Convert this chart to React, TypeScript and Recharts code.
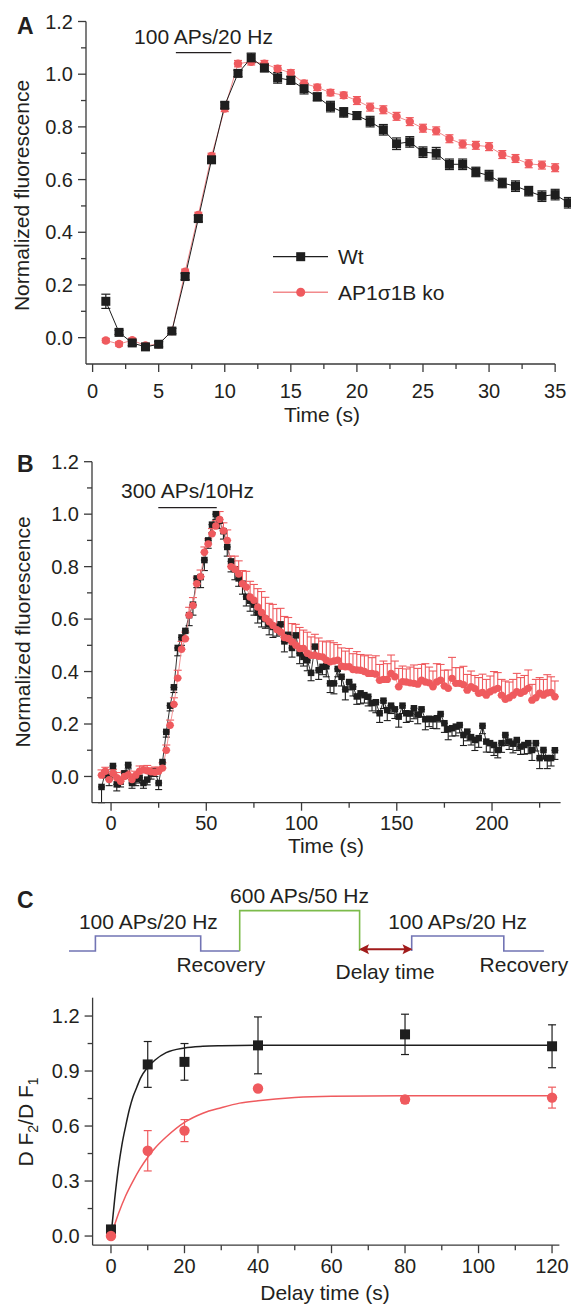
import React from 'react';
import { ComposedChart, Line, Scatter, XAxis, YAxis, ErrorBar, ReferenceLine } from 'recharts';

const FONT = '"Liberation Sans", Arial, Helvetica, sans-serif';
const INK = '#231f20';
const AXIS = '#3a3a3a';
const BLACK = '#1e1e1e';
const RED = '#ef5a5e';
const RED_LINE = '#f28a8c';
const BLUE = '#7274b4';
const GREEN = '#7cbb4b';
const DARKRED = '#a11b1b';

// ---------------- Panel A ----------------
const aTime = [1, 2, 3, 4, 5, 6, 7, 8, 9, 10, 11, 12, 13, 14, 15, 16, 17, 18, 19, 20, 21, 22, 23, 24, 25, 26, 27, 28, 29, 30, 31, 32, 33, 34, 35, 36];
const aWt = [0.138, 0.02, -0.02, -0.035, -0.025, 0.025, 0.232, 0.452, 0.675, 0.882, 1.003, 1.062, 1.024, 0.986, 0.977, 0.945, 0.914, 0.877, 0.855, 0.843, 0.82, 0.789, 0.736, 0.743, 0.704, 0.7, 0.658, 0.658, 0.629, 0.615, 0.587, 0.575, 0.556, 0.537, 0.543, 0.512];
const aWtErr = [0.027, 0.008, 0.01, 0.01, 0.01, 0.01, 0.012, 0.012, 0.012, 0.012, 0.012, 0.018, 0.015, 0.02, 0.015, 0.02, 0.015, 0.02, 0.018, 0.015, 0.02, 0.02, 0.022, 0.02, 0.02, 0.022, 0.02, 0.02, 0.018, 0.02, 0.018, 0.02, 0.018, 0.02, 0.02, 0.02];
const aKo = [-0.011, -0.024, -0.01, -0.03, -0.025, 0.025, 0.25, 0.466, 0.69, 0.87, 1.04, 1.047, 1.04, 1.021, 1.005, 0.965, 0.95, 0.93, 0.92, 0.9, 0.875, 0.865, 0.84, 0.82, 0.795, 0.785, 0.755, 0.735, 0.73, 0.725, 0.695, 0.68, 0.66, 0.655, 0.645];
const aKoErr = [0.008, 0.008, 0.008, 0.008, 0.008, 0.008, 0.01, 0.01, 0.01, 0.012, 0.012, 0.012, 0.012, 0.012, 0.012, 0.012, 0.012, 0.012, 0.012, 0.015, 0.015, 0.015, 0.015, 0.015, 0.015, 0.015, 0.015, 0.015, 0.015, 0.015, 0.015, 0.015, 0.015, 0.015, 0.015];
const aXTicks = [0, 2.5, 5, 7.5, 10, 12.5, 15, 17.5, 20, 22.5, 25, 27.5, 30, 32.5, 35];
const aXMajor = [0, 5, 10, 15, 20, 25, 30, 35];
const aYTicks = [0, 0.1, 0.2, 0.3, 0.4, 0.5, 0.6, 0.7, 0.8, 0.9, 1.0, 1.1, 1.2];
const aYMajor = [0, 0.2, 0.4, 0.6, 0.8, 1.0, 1.2];
const aStim = [6.3, 10.5];
const aStimLevel = 1.082;

// ---------------- Panel B ----------------
const bTime = [-5, -3, -1, 1, 3, 5, 7, 9, 11, 13, 15, 17, 19, 21, 23, 25, 27, 29, 31, 33, 35, 37, 39, 41, 43, 45, 47, 49, 51, 53, 55, 57, 59, 61, 63, 65, 67, 69, 71, 73, 75, 77, 79, 81, 83, 85, 87, 89, 91, 93, 95, 97, 99, 101, 103, 105, 107, 109, 111, 113, 115, 117, 119, 121, 123, 125, 127, 129, 131, 133, 135, 137, 139, 141, 143, 145, 147, 149, 151, 153, 155, 157, 159, 161, 163, 165, 167, 169, 171, 173, 175, 177, 179, 181, 183, 185, 187, 189, 191, 193, 195, 197, 199, 201, 203, 205, 207, 209, 211, 213, 215, 217, 219, 221, 223, 225, 227, 229, 231, 233];
const bWt = [-0.04, 0.015, -0.005, 0.04, -0.03, -0.02, 0.012, 0.044, -0.025, -0.01, -0.005, -0.025, -0.012, 0.01, 0.02, -0.025,
  0.055, 0.17, 0.27, 0.34, 0.49, 0.53, 0.555, 0.615, 0.655, 0.755, 0.76, 0.825, 0.9, 0.96, 1.0,
  0.975, 0.935, 0.875, 0.82, 0.79, 0.755, 0.735, 0.685, 0.67, 0.655, 0.625, 0.61, 0.6, 0.58, 0.57, 0.57, 0.58, 0.515, 0.54, 0.49, 0.538, 0.47,
  0.456, 0.443, 0.395, 0.495, 0.405, 0.418, 0.42, 0.355, 0.355, 0.41, 0.38, 0.332, 0.36, 0.342, 0.305, 0.317, 0.31, 0.304, 0.28, 0.283, 0.241, 0.289, 0.253, 0.27, 0.256, 0.228, 0.27, 0.241, 0.24, 0.26, 0.236, 0.256, 0.218, 0.22, 0.218, 0.222, 0.238, 0.203, 0.18, 0.184, 0.19, 0.196, 0.158, 0.171, 0.15, 0.139, 0.146, 0.193, 0.133, 0.127, 0.12, 0.101, 0.127, 0.158, 0.133, 0.125, 0.139, 0.114, 0.12, 0.127, 0.101, 0.127, 0.07, 0.101, 0.07, 0.07, 0.1];
const bWtErr = [0.06, 0.02, 0.03, 0.02, 0.025, 0.02, 0.02, 0.015, 0.02, 0.025, 0.02, 0.02, 0.02, 0.02, 0.02, 0.025,
  0.02, 0.02, 0.02, 0.02, 0.03, 0.03, 0.03, 0.04, 0.04, 0.035, 0.04, 0.04, 0.03, 0.03, 0.02,
  0.03, 0.03, 0.035, 0.04, 0.04, 0.03, 0.04, 0.035, 0.04, 0.04, 0.04, 0.04, 0.035, 0.04, 0.04, 0.035, 0.04, 0.04, 0.03, 0.035, 0.04, 0.04,
  0.035, 0.04, 0.03, 0.04, 0.035, 0.03, 0.04, 0.035, 0.04, 0.03,
  0.035, 0.04, 0.03, 0.035, 0.03, 0.04, 0.03, 0.035, 0.03, 0.04,
  0.035, 0.03, 0.04, 0.03, 0.035, 0.04, 0.03, 0.035, 0.03, 0.04,
  0.035, 0.03, 0.04, 0.03, 0.035, 0.04, 0.03, 0.035, 0.04, 0.03,
  0.035, 0.03, 0.04, 0.035, 0.03, 0.04, 0.035, 0.03, 0.04, 0.035,
  0.04, 0.03, 0.035, 0.04, 0.03, 0.035, 0.04, 0.03, 0.035, 0.04,
  0.04, 0.03, 0.04, 0.035, 0.04, 0.03, 0.035];
const bKo = [0.005, 0.02, -0.012, 0.012, -0.005, -0.018, 0.0, 0.006, -0.012, 0.005, 0.02, 0.025, 0.022, 0.018, 0.016, 0.02,
  0.032, 0.1, 0.195, 0.275, 0.375, 0.485, 0.525, 0.615, 0.652, 0.735, 0.762, 0.855, 0.886, 0.925, 0.955,
  0.98, 0.937, 0.9, 0.8, 0.79, 0.772, 0.735, 0.722, 0.684, 0.672, 0.646, 0.625, 0.603, 0.59, 0.576, 0.56, 0.551, 0.53, 0.526, 0.513, 0.5, 0.488,
  0.488, 0.47, 0.462, 0.462, 0.458, 0.456, 0.443, 0.437, 0.44, 0.443, 0.42, 0.418, 0.418, 0.408, 0.406, 0.405, 0.4, 0.393, 0.393, 0.39, 0.367, 0.37, 0.37, 0.393, 0.38, 0.342, 0.361, 0.36, 0.357, 0.355, 0.352, 0.367, 0.36, 0.357, 0.342, 0.36, 0.367, 0.345, 0.336, 0.374, 0.355, 0.355, 0.35, 0.329, 0.342, 0.335, 0.317, 0.32, 0.31, 0.323, 0.33, 0.336, 0.31, 0.294, 0.3, 0.31, 0.323, 0.317, 0.325, 0.336, 0.291, 0.3, 0.317, 0.31, 0.318, 0.32, 0.304];
const bKoErr = [0.02, 0.015, 0.02, 0.015, 0.02, 0.015, 0.02, 0.015, 0.02, 0.015, 0.02, 0.015, 0.02, 0.015, 0.02, 0.015,
  0.02, 0.02, 0.02, 0.025, 0.03, 0.03, 0.025, 0.03, 0.03, 0.025, 0.025, 0.02, 0.02, 0.02, 0.02,
  0.03, 0.03, 0.04, 0.04, 0.05, 0.05, 0.05, 0.06, 0.06, 0.06, 0.07, 0.08, 0.08, 0.07, 0.08, 0.08, 0.09, 0.08, 0.08, 0.07, 0.08, 0.08,
  0.07, 0.08, 0.07, 0.08, 0.07, 0.06, 0.07, 0.08, 0.07, 0.06,
  0.07, 0.06, 0.07, 0.06, 0.07, 0.06, 0.06, 0.07, 0.06, 0.07,
  0.06, 0.07, 0.06, 0.07, 0.06, 0.07, 0.06, 0.05, 0.06, 0.07,
  0.06, 0.06, 0.07, 0.06, 0.06, 0.07, 0.06, 0.06, 0.07, 0.08,
  0.06, 0.06, 0.07, 0.06, 0.06, 0.05, 0.06, 0.07, 0.06, 0.06,
  0.07, 0.06, 0.06, 0.07, 0.06, 0.06, 0.07, 0.06, 0.06, 0.07,
  0.06, 0.07, 0.06, 0.06, 0.07, 0.06, 0.06];
const bXTicks = [0, 25, 50, 75, 100, 125, 150, 175, 200, 225];
const bXMajor = [0, 50, 100, 150, 200];
const bYTicks = [0, 0.1, 0.2, 0.3, 0.4, 0.5, 0.6, 0.7, 0.8, 0.9, 1.0, 1.1, 1.2];
const bYMajor = [0, 0.2, 0.4, 0.6, 0.8, 1.0, 1.2];
const bStim = [24.8, 55.5];
const bStimLevel = 1.025;

// ---------------- Panel C ----------------
const cDelay = [0, 10, 20, 40, 80, 120];
const cWt = [0.036, 0.936, 0.95, 1.04, 1.1, 1.035];
const cWtErr = [0.01, 0.125, 0.1, 0.155, 0.11, 0.117];
const cKo = [0.0, 0.465, 0.575, 0.805, 0.745, 0.755];
const cKoErr = [0.01, 0.11, 0.06, 0.012, 0.02, 0.057];
const cFitWtT = [0, 1, 2, 3, 4, 5, 6, 7, 8, 10, 12, 15, 20, 25, 30, 40, 60, 80, 100, 120];
const cFitWtV = [0.0, 0.2, 0.37, 0.5, 0.6, 0.69, 0.76, 0.81, 0.86, 0.92, 0.96, 1.0, 1.026, 1.035, 1.038, 1.04, 1.04, 1.04, 1.04, 1.04];
const cFitKoT = [0, 2, 4, 6, 8, 10, 12, 15, 20, 25, 30, 35, 40, 50, 60, 80, 100, 120];
const cFitKoV = [0.0, 0.12, 0.22, 0.3, 0.37, 0.43, 0.48, 0.54, 0.62, 0.67, 0.7, 0.725, 0.738, 0.755, 0.762, 0.765, 0.765, 0.765];
const cXTicks = [0, 10, 20, 30, 40, 50, 60, 70, 80, 90, 100, 110, 120];
const cXMajor = [0, 20, 40, 60, 80, 100, 120];
const cYTicks = [0, 0.15, 0.3, 0.45, 0.6, 0.75, 0.9, 1.05, 1.2];
const cYMajor = [0, 0.3, 0.6, 0.9, 1.2];

// Protocol schematic (schematic units across the panel width; level 0 = rest)
const protoBlue1X = [69, 95.4, 95.4, 200.7, 200.7, 239.7];
const protoBlue1L = [0, 0, 1, 1, 0, 0];
const protoGreenX = [239.7, 239.7, 359.6, 359.6];
const protoGreenL = [0, 2.69, 2.69, 0];
const protoBlue2X = [411.7, 411.7, 503.8, 503.8, 543.9];
const protoBlue2L = [0, 1, 1, 0, 0];
const protoDelayX = [361, 410.5];
const protoDelayL = [0.12, 0.12];

// ---------------- helpers ----------------
const isMajor = (majors: number[], v: number) => majors.some((m) => Math.abs(m - v) < 1e-6);

function makeXTick(majors: number[], labelDy: number) {
  return (p: any) => {
    const v = p.payload.value as number;
    const major = isMajor(majors, v);
    return (
      <g key={`xt-${v}`}>
        <line x1={p.x} x2={p.x} y1={p.y} y2={p.y + (major ? 8 : 5)} stroke={AXIS} strokeWidth={1.3} />
        {major ? (
          <text x={p.x} y={p.y + labelDy} textAnchor="middle" fontSize={20} fontFamily={FONT} fill={INK}>
            {String(v)}
          </text>
        ) : null}
      </g>
    );
  };
}

function makeYTick(majors: number[]) {
  return (p: any) => {
    const v = p.payload.value as number;
    const major = isMajor(majors, v);
    return (
      <g key={`yt-${v}`}>
        <line x1={p.x - (major ? 8 : 5)} x2={p.x} y1={p.y} y2={p.y} stroke={AXIS} strokeWidth={1.3} />
        {major ? (
          <text x={p.x - 13} y={p.y} dy="0.36em" textAnchor="end" fontSize={20} fontFamily={FONT} fill={INK}>
            {v.toFixed(1)}
          </text>
        ) : null}
      </g>
    );
  };
}

const ok = (p: any) => Number.isFinite(p.cx) && Number.isFinite(p.cy);

function squareDot(size: number, fill: string) {
  return (p: any) =>
    ok(p) ? (
      <rect key={`sq-${p.index}`} x={p.cx - size / 2} y={p.cy - size / 2} width={size} height={size} fill={fill} />
    ) : (
      <g key={`sq-${p.index}`} />
    );
}

function circleDot(r: number, fill: string) {
  return (p: any) =>
    ok(p) ? <circle key={`ci-${p.index}`} cx={p.cx} cy={p.cy} r={r} fill={fill} /> : <g key={`ci-${p.index}`} />;
}

function arrowHead(p: any) {
  if (!ok(p)) return <g key={`ah-${p.index}`} />;
  const dir = p.index === 0 ? -1 : 1;
  const pts = `${p.cx + dir * 2},${p.cy} ${p.cx - dir * 8},${p.cy - 5} ${p.cx - dir * 6},${p.cy} ${p.cx - dir * 8},${p.cy + 5}`;
  return <polygon key={`ah-${p.index}`} points={pts} fill={DARKRED} />;
}

const aData = aTime.map((t, i) => ({
  t,
  wt: aWt[i],
  wtErr: aWtErr[i],
  ko: i < aKo.length ? aKo[i] : null,
  koErr: i < aKoErr.length ? aKoErr[i] : 0,
}));

const bData = bTime.map((t, i) => ({
  t,
  wt: bWt[i],
  wtErr: [bWtErr[i], 0],
  ko: bKo[i],
  koErr: [0, bKoErr[i]],
}));

const cWtData = cDelay.map((t, i) => ({ t, v: cWt[i], e: cWtErr[i] }));
const cKoData = cDelay.map((t, i) => ({ t, v: cKo[i], e: cKoErr[i] }));
const cFitWtData = cFitWtT.map((t, i) => ({ t, v: cFitWtV[i] }));
const cFitKoData = cFitKoT.map((t, i) => ({ t, v: cFitKoV[i] }));

const toPts = (xs: number[], ls: number[]) => xs.map((x, i) => ({ x, y: ls[i] }));

const textStyle = { fontFamily: FONT, fill: INK } as const;

export default function App() {
  return (
    <div style={{ position: 'absolute', left: 0, top: 0, width: 571, height: 1304, background: '#fff', overflow: 'hidden' }}>
      {/* Panel A */}
      <div style={{ position: 'absolute', left: 0, top: 0 }}>
        <ComposedChart width={571} height={430} data={aData} margin={{ top: 21.5, right: 0, bottom: 65, left: 85 }}>
          <XAxis
            dataKey="t"
            type="number"
            domain={[-0.5, 36.2]}
            ticks={aXTicks}
            interval={0}
            tick={makeXTick(aXMajor, 34)}
            tickLine={false}
            tickSize={0}
            tickMargin={0}
            axisLine={false}
            height={1}
          />
          <YAxis
            type="number"
            domain={[-0.1, 1.2]}
            ticks={aYTicks}
            interval={0}
            tick={makeYTick(aYMajor)}
            tickLine={false}
            tickSize={0}
            tickMargin={0}
            axisLine={{ stroke: AXIS, strokeWidth: 1.3 }}
            width={1}
          />
          <ReferenceLine segment={[{ x: -0.5, y: -0.1 }, { x: 35, y: -0.1 }]} stroke={AXIS} strokeWidth={1.3} ifOverflow="visible" />
          <ReferenceLine segment={[{ x: aStim[0], y: aStimLevel }, { x: aStim[1], y: aStimLevel }]} stroke={INK} strokeWidth={1.3} ifOverflow="visible" />
          <Line type="linear" dataKey="ko" stroke={RED_LINE} strokeWidth={1} dot={circleDot(4.2, RED)} activeDot={false} isAnimationActive={false}>
            <ErrorBar dataKey="koErr" width={4} stroke={RED} strokeWidth={1.2} direction="y" isAnimationActive={false} />
          </Line>
          <Line type="linear" dataKey="wt" stroke={BLACK} strokeWidth={1} dot={squareDot(9, BLACK)} activeDot={false} isAnimationActive={false}>
            <ErrorBar dataKey="wtErr" width={4.5} stroke={BLACK} strokeWidth={1.2} direction="y" isAnimationActive={false} />
          </Line>
        </ComposedChart>
      </div>

      {/* Panel B */}
      <div style={{ position: 'absolute', left: 0, top: 440 }}>
        <ComposedChart width={571} height={420} data={bData} margin={{ top: 21.7, right: 10.4, bottom: 56.3, left: 91 }}>
          <XAxis
            dataKey="t"
            type="number"
            domain={[-10, 236]}
            ticks={bXTicks}
            interval={0}
            tick={makeXTick(bXMajor, 27)}
            tickLine={false}
            tickSize={0}
            tickMargin={0}
            axisLine={{ stroke: AXIS, strokeWidth: 1.3 }}
            height={1}
          />
          <YAxis
            type="number"
            domain={[-0.1, 1.2]}
            ticks={bYTicks}
            interval={0}
            tick={makeYTick(bYMajor)}
            tickLine={false}
            tickSize={0}
            tickMargin={0}
            axisLine={{ stroke: AXIS, strokeWidth: 1.3 }}
            width={1}
          />
          <ReferenceLine segment={[{ x: bStim[0], y: bStimLevel }, { x: bStim[1], y: bStimLevel }]} stroke={INK} strokeWidth={1.3} ifOverflow="visible" />
          <Line type="linear" dataKey="wt" stroke={BLACK} strokeWidth={0.9} dot={squareDot(6.5, BLACK)} activeDot={false} isAnimationActive={false}>
            <ErrorBar dataKey="wtErr" width={3.5} stroke={BLACK} strokeWidth={1.1} direction="y" isAnimationActive={false} />
          </Line>
          <Line type="linear" dataKey="ko" stroke={RED_LINE} strokeWidth={0.9} dot={circleDot(3.7, RED)} activeDot={false} isAnimationActive={false}>
            <ErrorBar dataKey="koErr" width={4} stroke={RED} strokeWidth={1.1} direction="y" isAnimationActive={false} />
          </Line>
        </ComposedChart>
      </div>

      {/* Panel C protocol schematic */}
      <div style={{ position: 'absolute', left: 0, top: 880 }}>
        <ComposedChart width={571} height={100} margin={{ top: 0, right: 0, bottom: 29, left: 0 }}>
          <XAxis dataKey="x" type="number" domain={[0, 571]} hide />
          <YAxis type="number" domain={[0, 4.733]} hide />
          <Line data={toPts(protoBlue1X, protoBlue1L)} dataKey="y" type="linear" stroke={BLUE} strokeWidth={1.6} dot={false} activeDot={false} isAnimationActive={false} />
          <Line data={toPts(protoGreenX, protoGreenL)} dataKey="y" type="linear" stroke={GREEN} strokeWidth={1.6} dot={false} activeDot={false} isAnimationActive={false} />
          <Line data={toPts(protoBlue2X, protoBlue2L)} dataKey="y" type="linear" stroke={BLUE} strokeWidth={1.6} dot={false} activeDot={false} isAnimationActive={false} />
          <Line data={toPts(protoDelayX, protoDelayL)} dataKey="y" type="linear" stroke={DARKRED} strokeWidth={2} dot={arrowHead} activeDot={false} isAnimationActive={false} />
        </ComposedChart>
      </div>

      {/* Panel C chart */}
      <div style={{ position: 'absolute', left: 0, top: 980 }}>
        <ComposedChart width={571} height={324} margin={{ top: 17.7, right: 11.6, bottom: 57.8, left: 91.6 }}>
          <XAxis
            dataKey="t"
            type="number"
            domain={[-5, 122]}
            ticks={cXTicks}
            interval={0}
            tick={makeXTick(cXMajor, 28)}
            tickLine={false}
            tickSize={0}
            tickMargin={0}
            axisLine={{ stroke: AXIS, strokeWidth: 1.3 }}
            height={1}
          />
          <YAxis
            dataKey="v"
            type="number"
            domain={[-0.05, 1.3]}
            ticks={cYTicks}
            interval={0}
            tick={makeYTick(cYMajor)}
            tickLine={false}
            tickSize={0}
            tickMargin={0}
            axisLine={{ stroke: AXIS, strokeWidth: 1.3 }}
            width={1}
          />
          <Line data={cFitWtData} dataKey="v" type="monotone" stroke={BLACK} strokeWidth={1.5} dot={false} activeDot={false} isAnimationActive={false} />
          <Line data={cFitKoData} dataKey="v" type="monotone" stroke={RED} strokeWidth={1.5} dot={false} activeDot={false} isAnimationActive={false} />
          <Scatter data={cWtData} dataKey="v" shape={squareDot(10, BLACK)} isAnimationActive={false}>
            <ErrorBar dataKey="e" width={4} stroke={BLACK} strokeWidth={1.2} direction="y" isAnimationActive={false} />
          </Scatter>
          <Scatter data={cKoData} dataKey="v" shape={circleDot(5.2, RED)} isAnimationActive={false}>
            <ErrorBar dataKey="e" width={4} stroke={RED} strokeWidth={1.2} direction="y" isAnimationActive={false} />
          </Scatter>
        </ComposedChart>
      </div>

      {/* Text and legend overlay */}
      <svg width={571} height={1304} style={{ position: 'absolute', left: 0, top: 0, pointerEvents: 'none' }}>
        {/* Panel letters */}
        <text x={17} y={34} fontSize={23} fontWeight="bold" {...textStyle}>A</text>
        <text x={17} y={472} fontSize={23} fontWeight="bold" {...textStyle}>B</text>
        <text x={17} y={908} fontSize={23} fontWeight="bold" {...textStyle}>C</text>

        {/* Panel A annotations */}
        <text x={203.5} y={44.3} fontSize={21} textAnchor="middle" {...textStyle}>100 APs/20 Hz</text>
        <text transform="translate(29,195.5) rotate(-90)" fontSize={21} textAnchor="middle" {...textStyle}>Normalized fluorescence</text>
        <text x={322} y={421.5} fontSize={21} textAnchor="middle" {...textStyle}>Time (s)</text>

        {/* Panel A legend */}
        <line x1={273} x2={328} y1={256.7} y2={256.7} stroke={BLACK} strokeWidth={1.3} />
        <rect x={296.2} y={252.2} width={9} height={9} fill={BLACK} />
        <text x={338} y={264} fontSize={21} {...textStyle}>Wt</text>
        <line x1={273} x2={328} y1={292.3} y2={292.3} stroke={RED_LINE} strokeWidth={1.5} />
        <circle cx={300.7} cy={292.3} r={4.5} fill={RED} />
        <text x={338} y={299.8} fontSize={21} {...textStyle}>AP1σ1B ko</text>

        {/* Panel B annotations */}
        <text x={187.5} y={498.3} fontSize={21} textAnchor="middle" {...textStyle}>300 APs/10Hz</text>
        <text transform="translate(30,632) rotate(-90)" fontSize={21} textAnchor="middle" {...textStyle}>Normalized fluorescence</text>
        <text x={326} y={853} fontSize={21} textAnchor="middle" {...textStyle}>Time (s)</text>

        {/* Panel C protocol texts */}
        <text x={148.4} y={929.3} fontSize={21} textAnchor="middle" {...textStyle}>100 APs/20 Hz</text>
        <text x={299.5} y={903.3} fontSize={21} textAnchor="middle" {...textStyle}>600 APs/50 Hz</text>
        <text x={457.6} y={929.3} fontSize={21} textAnchor="middle" {...textStyle}>100 APs/20 Hz</text>
        <text x={220.8} y={971.7} fontSize={21} textAnchor="middle" {...textStyle}>Recovery</text>
        <text x={385.2} y={979.3} fontSize={21} textAnchor="middle" {...textStyle}>Delay time</text>
        <text x={523.9} y={971.7} fontSize={21} textAnchor="middle" {...textStyle}>Recovery</text>

        {/* Panel C axis titles */}
        <text transform="translate(33,1122) rotate(-90)" fontSize={21} textAnchor="middle" {...textStyle}>
          D F<tspan fontSize={14} dy={5}>2</tspan>
          <tspan dy={-5}>/D F</tspan>
          <tspan fontSize={14} dy={5}>1</tspan>
        </text>
        <text x={325} y={1300} fontSize={21} textAnchor="middle" {...textStyle}>Delay time (s)</text>
      </svg>
    </div>
  );
}
